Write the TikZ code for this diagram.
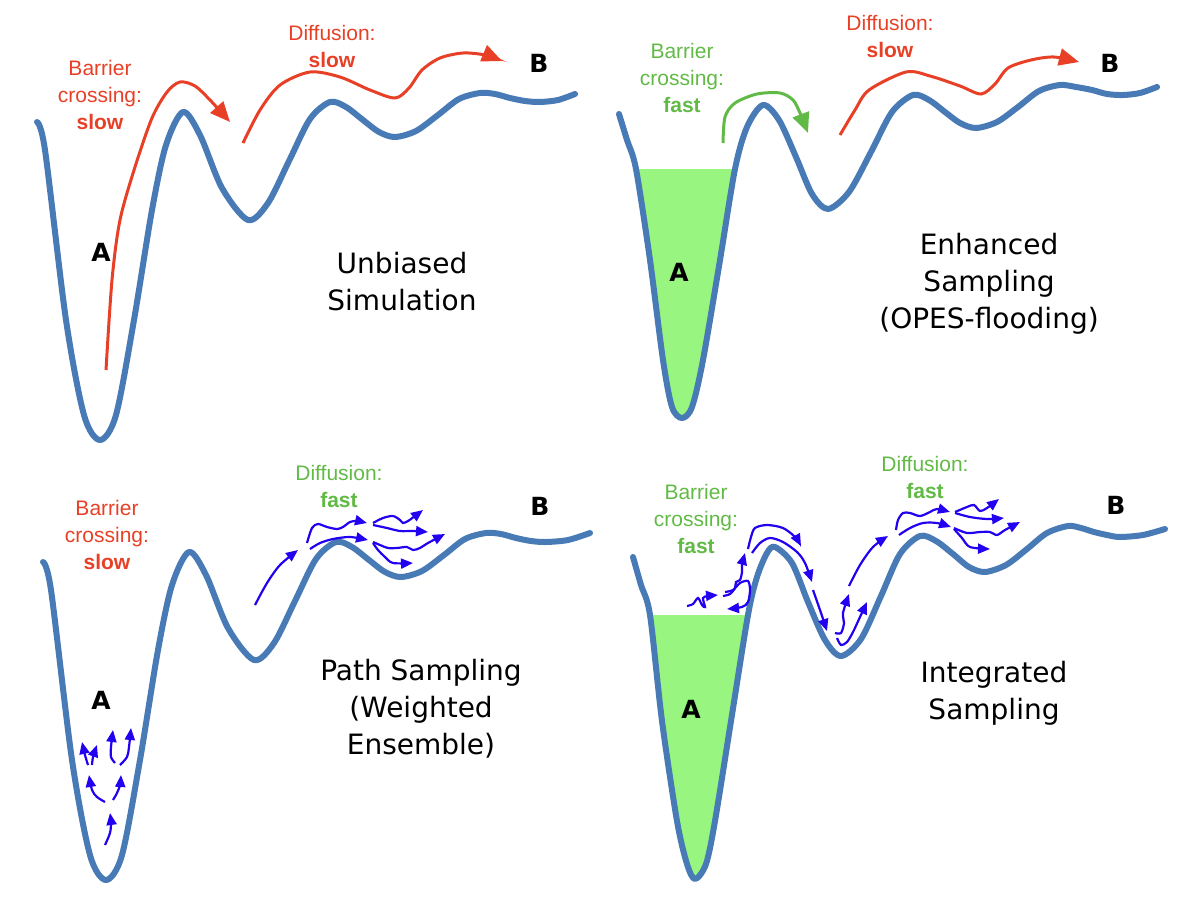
\documentclass[tikz,border=0pt]{standalone}
\usepackage{fontspec}
\setmainfont{Liberation Sans}
\newfontfamily\titlefont{DejaVu Sans}
\usetikzlibrary{arrows.meta}

\definecolor{curveblue}{RGB}{72,122,182}
\definecolor{slowred}{RGB}{232,64,38}
\definecolor{fastgreen}{RGB}{98,186,70}
\definecolor{wellgreen}{RGB}{152,246,128}
\definecolor{walkblue}{RGB}{34,0,240}

\tikzset{
  landscape/.style={draw=curveblue, line width=6pt, line cap=round, line join=round},
  well/.style={fill=wellgreen},
  slowpath/.style={draw=slowred, line width=3pt, -{Triangle[length=20pt,width=17pt]}},
  fastpath/.style={draw=fastgreen, line width=3pt, -{Triangle[length=20pt,width=17pt]}},
  walker/.style={draw=walkblue, line width=2.2pt, -{Triangle[length=12pt,width=10pt]}},
  note/.style={font=\fontsize{21}{27}\selectfont, align=center, inner sep=0pt},
  title/.style={font=\titlefont\fontsize{28}{37}\selectfont, align=center, inner sep=0pt},
  state/.style={font=\titlefont\bfseries\fontsize{25}{25}\selectfont, inner sep=0pt}
}

\begin{document}
\begin{tikzpicture}[x=1pt,y=-1pt]
\useasboundingbox (0,0) rectangle (1200,908);

% Unbiased Simulation
\draw[landscape] plot[smooth] coordinates {(37,122) (45,150) (66,320) (84,415) (100,440) (116,415) (134,320) (152,210) (166,145) (183,112) (200,135) (222,188) (248,220) (268,203) (289,161) (310,119) (330,102) (346,107) (363,120) (379,132) (395,137) (416,131) (438,115) (459,99) (480,93) (495,94) (510,98) (525,101) (540,102) (558,100) (575,94)};
\draw[slowpath] plot[smooth] coordinates {(106,370) (112,280) (120,220) (135,167) (152,118) (167,92) (180,82) (195,86) (210,100) (230,122)};
\draw[slowpath] plot[smooth] coordinates {(243,143) (260,110) (280,85) (310,72) (340,77) (370,90) (395,98) (409,88) (422,70) (440,58) (463,53) (485,55) (502,61)};
\node[note, text=slowred] (barrier1) at (100,95) {Barrier\\crossing:\\\textbf{slow}};
\node[note, text=slowred] (diffusion1) at (332,46) {Diffusion:\\\textbf{slow}};
\node[state] (A1) at (101,252) {A};
\node[state] (B1) at (539,63) {B};
\node[title] (title1) at (402,282) {Unbiased\\Simulation};

% Enhanced Sampling
\begin{scope}
\clip (600,169) rectangle (1200,454);
\fill[well] plot[smooth] coordinates {(619,114) (627,140) (636,169) (650,260) (663,360) (672,407) (682,418) (692,407) (703,360) (720,260) (735,169) (747,127) (763,105)} -- cycle;
\end{scope}
\draw[landscape] plot[smooth] coordinates {(619,114) (627,140) (636,169) (650,260) (663,360) (672,407) (682,418) (692,407) (703,360) (720,260) (735,169) (747,127) (763,105) (779,120) (796,157) (812,194) (828,209) (849,192) (871,152) (892,112) (913,95) (929,100) (945,112) (960,123) (976,128) (997,122) (1018,107) (1039,91) (1060,85) (1076,87) (1092,90) (1107,94) (1123,95) (1140,93) (1157,87)};
\draw[fastpath] plot[smooth] coordinates {(723,143) (725,117) (735,103) (757,94) (780,93) (793,100) (800,113) (808,133)};
\draw[slowpath] plot[smooth] coordinates {(840,135) (855,110) (869,90) (906,72) (930,76) (960,86) (981,94) (995,84) (1008,68) (1031,60) (1054,57) (1079,62)};
\node[note, text=fastgreen] (barrier2) at (682,78) {Barrier\\crossing:\\\textbf{fast}};
\node[note, text=slowred] (diffusion2) at (890,36) {Diffusion:\\\textbf{slow}};
\node[state] (A2) at (679,272) {A};
\node[state] (B2) at (1110,63) {B};
\node[title] (title2) at (989,284) {Enhanced\\Sampling\\(OPES-flooding)};

% Path Sampling
\draw[landscape] plot[smooth] coordinates {(43,562) (51,590) (72,760) (90,855) (106,880) (122,855) (140,760) (158,650) (172,585) (189,552) (206,575) (228,628) (254,660) (274,643) (295,601) (316,559) (336,542) (352,547) (369,560) (385,572) (401,577) (422,571) (444,555) (465,539) (486,533) (501,534) (516,538) (531,541) (546,542) (568,540) (590,533)};
\draw[walker] plot[smooth] coordinates {(105,845) (110,833) (111,823) (110,813)};
\draw[walker] plot[smooth] coordinates {(105,802) (97,797) (92,790) (89,775)};
\draw[walker] plot[smooth] coordinates {(113,800) (117,793) (120,785) (121,775)};
\draw[walker] plot[smooth] coordinates {(88,765) (85,755) (82,742)};
\draw[walker] plot[smooth] coordinates {(92,765) (93,757) (97,745)};
\draw[walker] plot[smooth] coordinates {(115,763) (111,757) (111,747) (113,730)};
\draw[walker] plot[smooth] coordinates {(120,765) (127,757) (129,747) (131,728)};
\draw[walker] plot[smooth] coordinates {(255,605) (267,583) (280,565) (298,550)};
\draw[walker] plot[smooth] coordinates {(307,543) (312,528) (318,524) (327,527) (337,529) (343,527) (350,522) (357,521) (367,523)};
\draw[walker] plot[smooth] coordinates {(310,549) (320,543) (333,539) (350,537) (368,540)};
\draw[walker] plot[smooth] coordinates {(373,523) (383,518) (393,516) (400,520) (403,523) (408,521) (415,516) (423,510)};
\draw[walker] plot[smooth] coordinates {(373,525) (387,528) (400,531) (413,531) (428,532)};
\draw[walker] plot[smooth] coordinates {(373,542) (380,545) (388,548) (397,548) (407,547) (413,550) (420,548) (428,543) (445,534)};
\draw[walker] plot[smooth] coordinates {(373,543) (378,550) (385,557) (393,563) (413,563)};
\node[note, text=slowred] (barrier3) at (107,535) {Barrier\\crossing:\\\textbf{slow}};
\node[note, text=fastgreen] (diffusion3) at (339,486) {Diffusion:\\\textbf{fast}};
\node[state] (A3) at (101,700) {A};
\node[state] (B3) at (540,506) {B};
\node[title] (title3) at (421,709) {Path Sampling\\(Weighted\\Ensemble)};

% Integrated Sampling
\begin{scope}
\clip (600,615) rectangle (1200,908);
\fill[well] plot[smooth] coordinates {(633,557) (641,585) (650,615) (662,721) (677,821) (687,864) (695,879) (706,864) (715,821) (731,721) (748,615) (757,577) (767,553) (775,547)} -- cycle;
\end{scope}
\draw[landscape] plot[smooth] coordinates {(633,557) (641,585) (650,615) (662,721) (677,821) (687,864) (695,879) (706,864) (715,821) (731,721) (748,615) (757,577) (767,553) (775,547) (792,563) (808,602) (825,640) (841,656) (861,639) (881,596) (900,554) (920,536) (936,541) (953,554) (969,567) (985,572) (1006,565) (1027,549) (1047,533) (1068,526) (1081,528) (1094,532) (1107,535) (1120,537) (1143,535) (1165,529)};
\draw[walker] plot[smooth] coordinates {(687,606) (693,604) (698,598) (702,605) (705,607) (703,598) (708,596) (718,595)};
\draw[walker] plot[smooth] coordinates {(723,596) (730,594) (735,588) (736,582) (740,580) (742,572) (742,565) (745,553)};
\draw[walker] plot[smooth] coordinates {(725,592) (733,590) (740,583) (748,581) (750,590) (748,602) (742,607) (727,609)};
\draw[walker] plot[smooth] coordinates {(748,549) (751,537) (755,528) (767,525) (783,528) (795,537) (801,546)};
\draw[walker] plot[smooth] coordinates {(752,553) (760,543) (770,538) (783,542) (797,552) (805,563) (812,582)};
\draw[walker] plot[smooth] coordinates {(813,590) (820,610) (827,631)};
\draw[walker] plot[smooth] coordinates {(835,633) (841,633) (844,623) (843,613) (849,594)};
\draw[walker] plot[smooth] coordinates {(837,638) (841,645) (847,642) (853,632) (860,617) (867,602)};
\draw[walker] plot[smooth] coordinates {(849,586) (860,565) (873,547) (888,536)};
\draw[walker] plot[smooth] coordinates {(896,530) (898,520) (903,513) (910,513) (920,516) (930,512) (937,509) (950,512)};
\draw[walker] plot[smooth] coordinates {(899,535) (910,528) (923,523) (937,523) (951,527)};
\draw[walker] plot[smooth] coordinates {(955,512) (967,507) (974,505) (980,511) (987,508) (999,499)};
\draw[walker] plot[smooth] coordinates {(955,513) (970,517) (987,519) (1004,518)};
\draw[walker] plot[smooth] coordinates {(954,528) (967,533) (980,532) (990,532) (997,535) (1005,530) (1020,522)};
\draw[walker] plot[smooth] coordinates {(954,529) (962,538) (970,547) (990,549)};
\node[note, text=fastgreen] (barrier4) at (696,519) {Barrier\\crossing:\\\textbf{fast}};
\node[note, text=fastgreen] (diffusion4) at (925,477) {Diffusion:\\\textbf{fast}};
\node[state] (A4) at (691,709) {A};
\node[state] (B4) at (1116,505) {B};
\node[title] (title4) at (994,693) {Integrated\\Sampling};
\end{tikzpicture}
\end{document}
